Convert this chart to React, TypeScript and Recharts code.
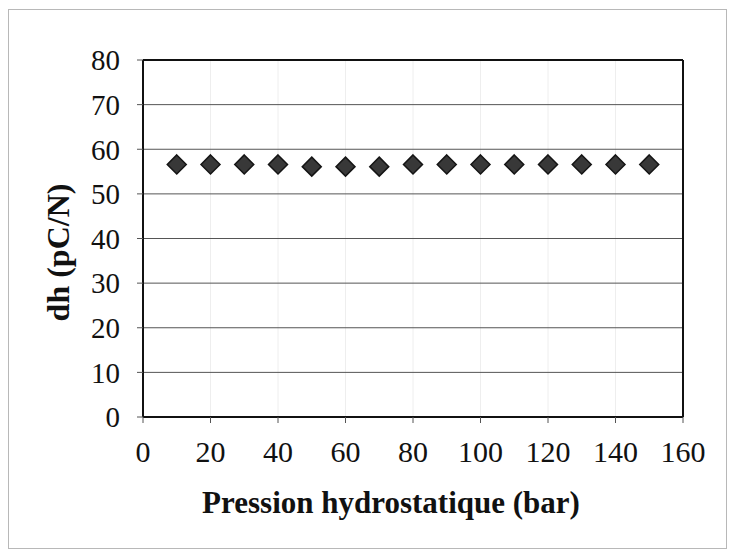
import React from 'react';
import {
  ScatterChart,
  Scatter,
  XAxis,
  YAxis,
  CartesianGrid,
  ReferenceLine,
} from 'recharts';

// pression hydrostatique (bar)
const pressions = [10, 20, 30, 40, 50, 60, 70, 80, 90, 100, 110, 120, 130, 140, 150];
// dh (pC/N)
const dhValues = [56.6, 56.6, 56.6, 56.6, 56.1, 56.1, 56.1, 56.6, 56.6, 56.6, 56.6, 56.6, 56.6, 56.6, 56.6];

const xTicks = [0, 20, 40, 60, 80, 100, 120, 140, 160];
const yTicks = [0, 10, 20, 30, 40, 50, 60, 70, 80];

const xTitle = 'Pression hydrostatique (bar)';
const yTitle = 'dh (pC/N)';

const data = pressions.map((p, i) => ({ p, dh: dhValues[i] }));

const font = '"Liberation Serif", "Times New Roman", serif';

const Diamond = (props: any) => {
  const { cx, cy } = props;
  const r = 9.5;
  return (
    <path
      d={`M${cx},${cy - r} L${cx + r},${cy} L${cx},${cy + r} L${cx - r},${cy} Z`}
      fill="#383838"
      stroke="#151515"
      strokeWidth={1.5}
    />
  );
};

// titres d'axes placés à partir du viewBox de l'axe
const XTitle = (props: any) => {
  const { viewBox } = props;
  const cx = viewBox.x + viewBox.width / 2 - 22;
  return (
    <text x={cx} y={viewBox.y + 96} textAnchor="middle" fill="#111"
      style={{ fontSize: 31, fontWeight: 'bold', fontFamily: font }}>
      {xTitle}
    </text>
  );
};

const YTitle = (props: any) => {
  const { viewBox } = props;
  const cy = viewBox.y + viewBox.height / 2 + 14;
  const cx = viewBox.x + 3;
  return (
    <text x={cx} y={cy} textAnchor="middle" dominantBaseline="central" fill="#111"
      transform={`rotate(-90, ${cx}, ${cy})`}
      style={{ fontSize: 32, fontWeight: 'bold', fontFamily: font }}>
      {yTitle}
    </text>
  );
};

export default function App() {
  return (
    <div style={{ position: 'absolute', left: 0, top: 0, width: 733, height: 554, background: '#fff' }}>
      <div
        style={{
          position: 'absolute',
          left: 8,
          top: 9,
          width: 717,
          height: 538,
          border: '1px solid #b8b8b8',
        }}
      />
      <ScatterChart
        width={733}
        height={554}
        margin={{ top: 60, right: 50, left: 55, bottom: 17 }}
        style={{ position: 'absolute', left: 0, top: 0 }}
      >
        <CartesianGrid stroke="#eeeeee" strokeWidth={1} horizontal={false} />
        <CartesianGrid stroke="#555" strokeWidth={1} vertical={false} />
        <XAxis
          type="number"
          dataKey="p"
          domain={[0, 160]}
          ticks={xTicks}
          height={120}
          axisLine={{ stroke: '#111', strokeWidth: 2 }}
          tickLine={{ stroke: '#555' }}
          tickSize={6}
          tick={{ fill: '#111', fontSize: 30, fontFamily: font }}
          tickMargin={18}
          label={<XTitle />}
          interval={0}
        />
        <YAxis
          type="number"
          dataKey="dh"
          domain={[0, 80]}
          ticks={yTicks}
          width={88}
          axisLine={{ stroke: '#111', strokeWidth: 2 }}
          tickLine={{ stroke: '#555' }}
          tickSize={6}
          tick={{ fill: '#111', fontSize: 29, fontFamily: font }}
          tickMargin={17}
          label={<YTitle />}
          interval={0}
        />
        <ReferenceLine y={80} stroke="#111" strokeWidth={2} />
        <ReferenceLine x={160} stroke="#111" strokeWidth={2} />
        <Scatter data={data} shape={<Diamond />} isAnimationActive={false} />
      </ScatterChart>
    </div>
  );
}
